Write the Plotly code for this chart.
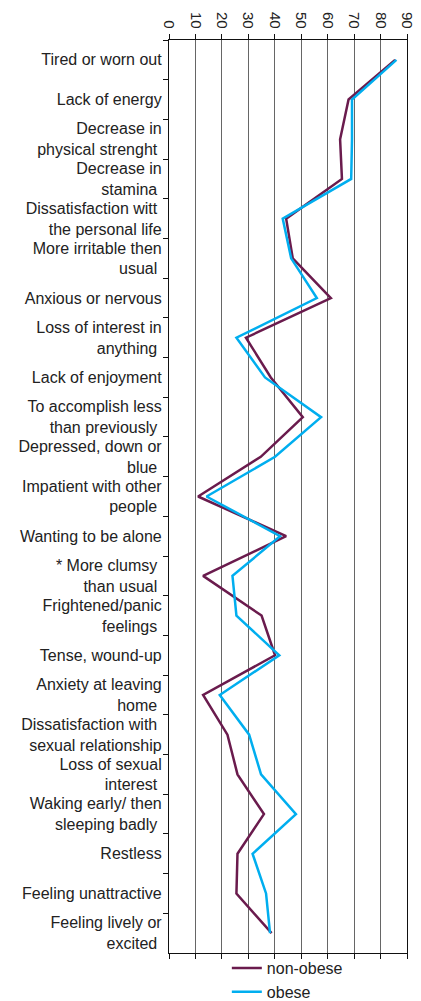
import plotly.graph_objects as go

categories = [
    "Tired or worn out",
    "Lack of energy",
    "Decrease in<br>physical strenght&nbsp;",
    "Decrease in<br>stamina&nbsp;",
    "Dissatisfaction witt&nbsp;<br>the personal life",
    "More irritable then<br>usual&nbsp;",
    "Anxious or nervous",
    "Loss of interest in<br>anything&nbsp;",
    "Lack of enjoyment",
    "To accomplish less<br>than previously&nbsp;",
    "Depressed, down or<br>blue&nbsp;",
    "Impatient with other<br>people&nbsp;",
    "Wanting to be alone",
    "* More clumsy&nbsp;<br>than usual&nbsp;",
    "Frightened/panic<br>feelings&nbsp;",
    "Tense, wound-up",
    "Anxiety at leaving<br>home&nbsp;",
    "Dissatisfaction with&nbsp;<br>sexual relationship",
    "Loss of sexual<br>interest&nbsp;",
    "Waking early/ then<br>sleeping badly&nbsp;",
    "Restless",
    "Feeling unattractive",
    "Feeling lively or<br>excited&nbsp;",
]

non_obese = [85.5, 67.9, 64.7, 65.4, 44.3, 46.8, 61.2, 29.1, 38.5, 50.6, 34.7, 11.0,
             44.3, 12.9, 35.0, 40.1, 12.9, 22.1, 25.9, 35.9, 25.9, 25.5, 38.8]
obese = [86.0, 69.2, 69.2, 68.9, 43.0, 46.2, 55.9, 25.5, 36.3, 57.5, 40.1, 14.2,
         42.0, 24.0, 25.5, 41.7, 19.2, 30.3, 34.8, 48.0, 31.6, 36.7, 38.2]

x_ticks = [0, 10, 20, 30, 40, 50, 60, 70, 80, 90]

fig = go.Figure()
fig.add_trace(go.Scatter(x=non_obese, y=categories, mode="lines", name="non-obese",
                         line=dict(color="#6A1B4D", width=2.5)))
fig.add_trace(go.Scatter(x=obese, y=categories, mode="lines", name="obese",
                         line=dict(color="#00AEEF", width=2.5)))

# the page body adds an 8px margin, so the figure is 8px smaller than the window
fig.update_layout(
    width=413, height=993,
    margin=dict(l=161, r=14, t=32, b=48, autoexpand=False),
    paper_bgcolor="white", plot_bgcolor="white",
    font=dict(family="Liberation Sans, Arial, sans-serif", size=16, color="#222"),
    showlegend=True,
    legend=dict(x=0.243, y=0.002, xanchor="left", yanchor="top",
                font=dict(size=16, color="#222"), tracegroupgap=0,
                maxheight=120, bgcolor="rgba(0,0,0,0)"),
    xaxis=dict(side="top", range=[0, 90], tickvals=x_ticks,
               ticktext=[str(v) for v in x_ticks], tickangle=90,
               showgrid=True, gridcolor="#666", gridwidth=1,
               showline=True, linecolor="#111", linewidth=1.2, mirror="ticks",
               ticks="outside", ticklen=5, tickcolor="#111", automargin=False,
               tickfont=dict(size=15, color="#222"), zeroline=False),
    yaxis=dict(type="category", categoryorder="array", categoryarray=categories,
               range=[22.5, -0.5], tickson="boundaries", ticks="outside",
               ticklen=5, tickcolor="#111", showgrid=False, automargin=False,
               ticklabelstandoff=3,
               showline=True, linecolor="#111", linewidth=1.2, mirror=True,
               tickfont=dict(size=16, color="#222"), zeroline=False),
)

fig.write_html("out.html")
